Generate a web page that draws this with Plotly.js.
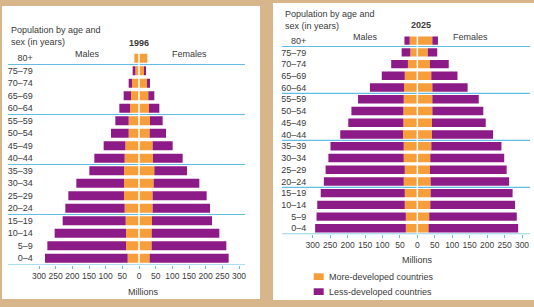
<!DOCTYPE html>
<html>
<head>
<meta charset="utf-8">
<script src="https://cdn.plot.ly/plotly-3.0.1.min.js"></script>
<style>
html,body{margin:0;padding:0;background:#D7B68C;}
#chart{width:534px;height:307px;}
</style>
</head>
<body>
<div id="chart"></div>
<script>
// ---- DATA ----
const ageGroups = ["0–4","5–9","10–14","15–19","20–24","25–29","30–34","35–39","40–44","45–49","50–54","55–59","60–64","65–69","70–74","75–79","80+"];

// 1996 (millions)
const males1996More   = [34,39,39,40,43,45,45,45,43,41,31,31,27,24,21,11,14];
const males1996Less   = [248,236,214,189,178,167,143,104,91,65,53,40,32,22,10,8,0];
const females1996More = [32,38,38,39,41,41,44,46,42,41,32,33,30,28,24,15,25];
const females1996Less = [237,224,203,180,172,162,137,98,89,60,49,38,31,18,9,6,0];

// 2025 (millions)
const males2025More   = [33,33,36,36,39,36,39,39,41,40,40,39,38,36,27,20,22];
const males2025Less   = [260,256,251,241,229,227,216,210,180,158,149,131,98,66,48,25,15];
const females2025More = [32,34,37,38,38,36,37,40,42,42,43,43,43,40,36,30,43];
const females2025Less = [257,251,243,235,225,220,212,201,175,154,146,133,101,75,54,27,16];

const tickVals = [-300,-250,-200,-150,-100,-50,0,50,100,150,200,250,300];
const tickText = ["300","250","200","150","100","50","0","50","100","150","200","250","300"];

const legendMore = "More-developed countries";
const legendLess = "Less-developed countries";

// ---- STYLE ----
const ORANGE = "#F59E3A";
const PURPLE = "#8C1B87";
const BLUE = "#63BDE4";
const TEXT = "#3a3a3a";
const FONT = "'Liberation Sans Narrow', 'Liberation Sans', Arial, sans-serif";
const W = 534, H = 307;
const px = v => v / W;
const py = v => 1 - v / H;

function bar(x, color, xa, ya, name) {
  return {type: "bar", orientation: "h", y: ageGroups, x: x,
    marker: {color: color, line: {width: 0}}, xaxis: xa, yaxis: ya,
    name: name, showlegend: false, hoverinfo: "skip"};
}
const neg = a => a.map(v => -v);

const traces = [
  bar(neg(males1996More), ORANGE, "x", "y", legendMore),
  bar(females1996More, ORANGE, "x", "y", legendMore),
  bar(neg(males1996Less), PURPLE, "x", "y", legendLess),
  bar(females1996Less, PURPLE, "x", "y", legendLess),
  bar(neg(males2025More), ORANGE, "x2", "y2", legendMore),
  bar(females2025More, ORANGE, "x2", "y2", legendMore),
  bar(neg(males2025Less), PURPLE, "x2", "y2", legendLess),
  bar(females2025Less, PURPLE, "x2", "y2", legendLess)
];

function xAxis(domain, anchor) {
  return {domain: domain, anchor: anchor, range: [-310, 310], fixedrange: true,
    tickmode: "array", tickvals: tickVals, ticktext: tickText, tickangle: 0,
    ticks: "outside", ticklen: 3,
    tickcolor: BLUE, tickwidth: 1, showgrid: false, zeroline: false, showline: false,
    tickfont: {family: FONT, size: 8.5, color: TEXT}};
}
function yAxis(domain, anchor) {
  return {domain: domain, anchor: anchor, type: "category", range: [-0.5, 16.6],
    categoryorder: "array", categoryarray: ageGroups, fixedrange: true,
    tickmode: "array", tickvals: ageGroups, ticktext: ageGroups,
    showgrid: false, zeroline: false, showline: false, ticks: "",
    ticklabelstandoff: 2,
    tickfont: {family: FONT, size: 9, color: TEXT}};
}

const shapes = [
  // white panels
  {type: "rect", xref: "paper", yref: "paper", x0: px(2), x1: px(260), y0: py(299), y1: py(6),
   fillcolor: "#ffffff", line: {width: 0}, layer: "below"},
  {type: "rect", xref: "paper", yref: "paper", x0: px(273), x1: px(534), y0: py(300), y1: py(3),
   fillcolor: "#ffffff", line: {width: 0}, layer: "below"}
];
[-0.5, 3.5, 7.5, 11.5, 15.5].forEach(v => {
  shapes.push({type: "line", xref: "paper", yref: "y", x0: px(8), x1: px(245), y0: v, y1: v,
    line: {color: BLUE, width: 1.2}, layer: "above"});
  shapes.push({type: "line", xref: "paper", yref: "y2", x0: px(282), x1: px(530), y0: v, y1: v,
    line: {color: BLUE, width: 1.2}, layer: "above"});
});
shapes.push({type: "line", xref: "x", yref: "y", x0: 0, x1: 0, y0: -0.45, y1: 16.45,
  line: {color: "#ffffff", width: 1.5}, layer: "above"});
shapes.push({type: "line", xref: "x2", yref: "y2", x0: 0, x1: 0, y0: -0.45, y1: 16.45,
  line: {color: "#ffffff", width: 1.5}, layer: "above"});
// legend swatches
shapes.push({type: "rect", xref: "paper", yref: "paper", x0: px(313.7), x1: px(323.7), y0: py(280), y1: py(273.3),
  fillcolor: ORANGE, line: {width: 0}});
shapes.push({type: "rect", xref: "paper", yref: "paper", x0: px(313.7), x1: px(323.7), y0: py(295), y1: py(288.3),
  fillcolor: PURPLE, line: {width: 0}});

function ann(text, x, y, opts) {
  return Object.assign({text: text, xref: "paper", yref: "paper", x: px(x), y: py(y),
    xanchor: "center", yanchor: "middle", showarrow: false,
    font: {family: FONT, size: 9, color: TEXT}}, opts || {});
}
const annotations = [
  ann("Population by age and<br>sex (in years)", 9, 36.3, {xanchor: "left", align: "left"}),
  ann("<b>1996</b>", 139, 42.7),
  ann("Males", 88, 54.5),
  ann("Females", 189, 54.5),
  ann("Millions", 143, 291.7),
  ann("Population by age and<br>sex (in years)", 282.7, 19.7, {xanchor: "left", align: "left"}),
  ann("<b>2025</b>", 421.3, 25),
  ann("Males", 365.3, 36.7),
  ann("Females", 470.3, 36.7),
  ann("Millions", 417.7, 260),
  ann(legendMore, 327, 276.7, {xanchor: "left"}),
  ann(legendLess, 327, 292, {xanchor: "left"})
];

const layout = {
  width: W, height: H,
  margin: {l: 0, r: 0, t: 0, b: 0, pad: 0},
  paper_bgcolor: "#D7B68C",
  plot_bgcolor: "rgba(0,0,0,0)",
  barmode: "relative",
  bargap: 0.28,
  showlegend: false,
  hovermode: false,
  xaxis: xAxis([px(35.67), px(242.33)], "y"),
  yaxis: yAxis([py(264.5), py(50.75)], "x"),
  xaxis2: xAxis([px(309.2), px(525.5)], "y2"),
  yaxis2: yAxis([py(234.2), py(33.6)], "x2"),
  shapes: shapes,
  annotations: annotations
};

Plotly.newPlot("chart", traces, layout, {staticPlot: true, displayModeBar: false});
</script>
</body>
</html>
